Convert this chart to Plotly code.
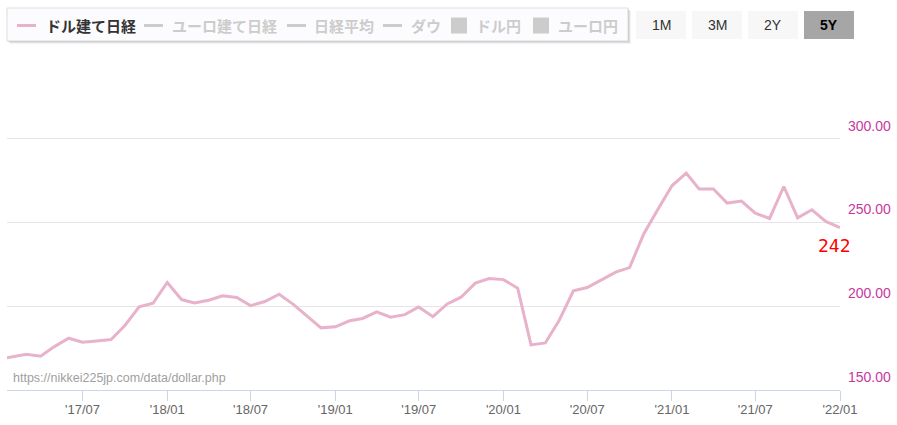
import plotly.graph_objects as go

# ---- data ----
dates = [
    "2017-01-18", "2017-03-01", "2017-04-01", "2017-05-01", "2017-06-01", "2017-07-01",
    "2017-08-01", "2017-09-01", "2017-10-01", "2017-11-01", "2017-12-01",
    "2018-01-01", "2018-02-01", "2018-03-01", "2018-04-01", "2018-05-01", "2018-06-01",
    "2018-07-01", "2018-08-01", "2018-09-01", "2018-10-01", "2018-11-01", "2018-12-01",
    "2019-01-01", "2019-02-01", "2019-03-01", "2019-04-01", "2019-05-01", "2019-06-01",
    "2019-07-01", "2019-08-01", "2019-09-01", "2019-10-01", "2019-11-01", "2019-12-01",
    "2020-01-01", "2020-02-01", "2020-03-01", "2020-04-01", "2020-05-01", "2020-06-01",
    "2020-07-01", "2020-08-01", "2020-09-01", "2020-10-01", "2020-11-01", "2020-12-01",
    "2021-01-01", "2021-02-01", "2021-03-01", "2021-04-01", "2021-05-01", "2021-06-01",
    "2021-07-01", "2021-08-01", "2021-09-01", "2021-10-01", "2021-11-01", "2021-12-01",
    "2022-01-01",
]
dollar_nikkei = [
    169.3, 171.4, 170.2, 175.9, 180.9, 178.5,
    179.3, 180.1, 188.5, 199.6, 201.8,
    214.2, 204.0, 202.0, 203.6, 206.2, 205.2,
    200.4, 202.8, 207.2, 201.3, 194.3, 187.1,
    187.7, 191.3, 192.7, 196.7, 193.5, 195.0,
    199.6, 193.8, 201.4, 205.4, 213.8, 216.5,
    215.9, 210.8, 176.9, 178.1, 191.5, 209.2,
    211.2, 215.8, 220.4, 223.1, 243.3, 257.6,
    271.9, 279.5, 270.0, 270.0, 261.6, 262.8,
    255.6, 252.4, 271.5, 252.8, 257.6, 250.6,
    247.0,
]
latest_label = "242"
y_tickvals = [150, 200, 250, 300, 350]
y_ticktext = ["150.00", "200.00", "250.00", "300.00", ""]
legend_names = ["ドル建て日経", "ユーロ建て日経", "日経平均", "ダウ", "ドル円", "ユーロ円"]
legend_kinds = ["line", "line", "line", "line", "square", "square"]
range_buttons = ["1M", "3M", "2Y", "5Y"]
active_button = "5Y"
source_text = "https://nikkei225jp.com/data/dollar.php"

# ---- layout geometry (pixels) ----
FW, FH = 897, 425
L, R, T, B = 7, 840, 55, 390
W, H = R - L, B - T


def px(x):
    return (x - L) / W


def py(y):
    return (B - y) / H


LINE_COLOR = "#e8b2ca"
TXT = "Liberation Sans"
JP = "Noto Sans CJK JP"

fig = go.Figure()
fig.add_trace(go.Scatter(
    x=dates, y=dollar_nikkei, mode="lines", name=legend_names[0],
    line=dict(color=LINE_COLOR, width=3), showlegend=False, hoverinfo="skip",
))

shapes = []
annotations = []

# legend box with a soft shadow
lx0, ly0, lx1, ly1 = 7, 8, 628, 41
for off, op in [(3, 0.10), (2, 0.18), (1, 0.30)]:
    shapes.append(dict(type="rect", xref="paper", yref="paper",
                       x0=px(lx0 + off), x1=px(lx1 + off), y0=py(ly1 + off), y1=py(ly0 + off),
                       line=dict(width=0), fillcolor="#888888", opacity=op, layer="above"))
shapes.append(dict(type="rect", xref="paper", yref="paper",
                   x0=px(lx0), x1=px(lx1), y0=py(ly1), y1=py(ly0),
                   line=dict(color="#dddddd", width=1), fillcolor="#fcfcfe", layer="above"))

sym_x = [17, 144, 287, 383, 451, 533]
txt_x = [45, 171, 313, 410, 475, 557]
ly = 25.5
for i, (name, kind) in enumerate(zip(legend_names, legend_kinds)):
    col = LINE_COLOR if i == 0 else "#cccccc"
    tcol = "#333333" if i == 0 else "#cccccc"
    if kind == "line":
        shapes.append(dict(type="line", xref="paper", yref="paper",
                           x0=px(sym_x[i]), x1=px(sym_x[i] + 19), y0=py(ly), y1=py(ly),
                           line=dict(color=col, width=3), layer="above"))
    else:
        shapes.append(dict(type="rect", xref="paper", yref="paper",
                           x0=px(sym_x[i]), x1=px(sym_x[i] + 16), y0=py(ly + 8), y1=py(ly - 8),
                           line=dict(width=0), fillcolor=col, layer="above"))
    annotations.append(dict(xref="paper", yref="paper", x=px(txt_x[i] - 1), y=py(ly),
                            xanchor="left", yanchor="middle", showarrow=False,
                            text="<b>%s</b>" % name,
                            font=dict(family=JP, size=15, color=tcol)))

# range buttons
bx = [636, 692, 748, 804]
for lab, x0 in zip(range_buttons, bx):
    act = lab == active_button
    shapes.append(dict(type="rect", xref="paper", yref="paper",
                       x0=px(x0), x1=px(x0 + 50), y0=py(39), y1=py(11),
                       line=dict(width=0), fillcolor="#a6a6a6" if act else "#f7f7f7",
                       layer="above"))
    annotations.append(dict(xref="paper", yref="paper", x=px(x0 + 25), y=py(25),
                            xanchor="center", yanchor="middle", showarrow=False,
                            text="<b>%s</b>" % lab if act else lab,
                            font=dict(family=TXT, size=14, color="#000000" if act else "#333333")))

# source watermark
annotations.append(dict(xref="paper", yref="paper", x=px(11), y=py(378),
                        xanchor="left", yanchor="middle", showarrow=False,
                        text=source_text, font=dict(family=TXT, size=12.5, color="#a0a0a0")))

# latest value label
annotations.append(dict(xref="paper", yref="paper", x=px(834), y=py(245),
                        xanchor="center", yanchor="middle", showarrow=False,
                        text=latest_label, font=dict(family="DejaVu Sans Mono", size=18, color="#ff0000")))

fig.update_layout(
    width=FW, height=FH,
    margin=dict(l=L, r=FW - R, t=T, b=FH - B, pad=0),
    paper_bgcolor="#ffffff", plot_bgcolor="#ffffff",
    showlegend=False,
    shapes=shapes, annotations=annotations,
    xaxis=dict(
        type="date", range=[dates[0], dates[-1]],
        tick0="2017-07-01", dtick="M6", tickformat="'%y/%m",
        ticks="outside", ticklen=10, tickcolor="#ccd6eb", tickwidth=1,
        showline=True, linecolor="#ccd6eb", linewidth=1,
        showgrid=False, zeroline=False,
        ticklabelstandoff=-3,
        tickfont=dict(family=TXT, size=13, color="#666666"),
        fixedrange=True,
    ),
    yaxis=dict(
        side="right", range=[150, 350],
        tickvals=y_tickvals, ticktext=y_ticktext,
        showgrid=True, gridcolor="#e6e6e6", gridwidth=1,
        zeroline=False, showline=False, ticks="",
        ticklabelshift=-13, ticklabelstandoff=7,
        tickfont=dict(family=TXT, size=14, color="#c8389e"),
        fixedrange=True,
    ),
)

fig.write_html("out.html", config={"displayModeBar": False},
               post_script="document.body.style.margin='0';document.body.style.padding='0';")
